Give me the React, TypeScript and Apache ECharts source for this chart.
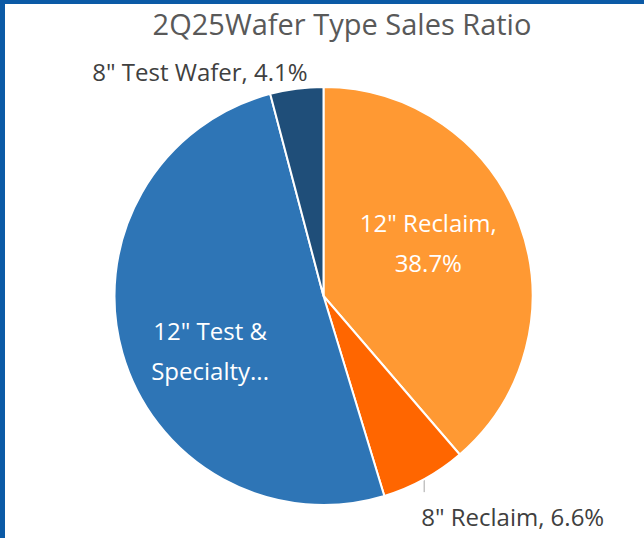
import React, { useEffect, useRef } from "react";
import * as echarts from "echarts";

const titleText = "2Q25Wafer Type Sales Ratio";
const categories = ['12" Reclaim', '8" Reclaim', '12" Test & Specialty Wafer', '8" Test Wafer'];
const shares = [38.7, 6.6, 50.6, 4.1];
const labelTexts = ['12" Reclaim,\n38.7%', '8" Reclaim, 6.6%', '12" Test &\nSpecialty...', '8" Test Wafer, 4.1%'];
const sliceColors = ["#FF9933", "#FF6600", "#2E75B6", "#1F4E79"];

export default function App() {
  const ref = useRef<HTMLDivElement>(null);
  useEffect(() => {
    document.body.style.margin = "0";
    const chart = echarts.init(ref.current!, null, { renderer: "svg" });
    const font = "'Open Sans', 'Noto Sans', sans-serif";
    chart.setOption({
      animation: false,
      backgroundColor: "#ffffff",
      title: {
        text: titleText,
        left: 337,
        textAlign: "center",
        top: 4,
        textStyle: { fontFamily: font, fontSize: 29, fontWeight: "normal", color: "#595959" },
      },
      graphic: [
        { type: "rect", left: 0, top: 0, shape: { width: 5, height: 538 }, style: { fill: "#0B5AA6" } },
        { type: "rect", left: 0, top: 0, shape: { width: 644, height: 4 }, style: { fill: "#0B5AA6" } },
      ],
      series: [
        {
          type: "pie",
          center: [323.5, 296],
          radius: 209,
          startAngle: 90,
          clockwise: true,
          avoidLabelOverlap: false,
          itemStyle: { borderColor: "#ffffff", borderWidth: 2 },
          label: { fontFamily: font, fontSize: 24, lineHeight: 40 },
          labelLayout: (p: any) => {
            const pts = p.labelLinePoints;
            if (p.dataIndex === 0) return { dx: 4, dy: -16 };
            if (p.dataIndex === 2) return { dx: -10, dy: 25 };
            if (p.dataIndex === 1 && pts) {
              const s = pts[0];
              return {
                x: s[0] - 3,
                y: s[1] + 37,
                align: "left",
                verticalAlign: "middle",
                labelLinePoints: [s, [s[0], s[1] + 13], [s[0], s[1] + 13]],
              };
            }
            if (p.dataIndex === 3 && pts) {
              const s = pts[0];
              return { x: s[0] + 11, y: s[1] - 17, align: "right", verticalAlign: "middle" };
            }
            return {};
          },
          data: categories.map((name, i) => {
            const inside = i === 0 || i === 2;
            return {
              name,
              value: shares[i],
              itemStyle: { color: sliceColors[i] },
              label: inside
                ? { show: true, position: "inside", formatter: labelTexts[i], color: "#ffffff", fontFamily: font, fontSize: 24, lineHeight: 40 }
                : { show: true, position: "outside", formatter: labelTexts[i], color: "#404040", fontFamily: font, fontSize: 24 },
              labelLine: inside
                ? { show: false }
                : { show: i === 1, length: 13, length2: 0, lineStyle: { color: "#A6A6A6", width: 1 } },
            };
          }),
        },
      ],
    });
    return () => chart.dispose();
  }, []);
  return <div ref={ref} style={{ width: 644, height: 538 }} />;
}
